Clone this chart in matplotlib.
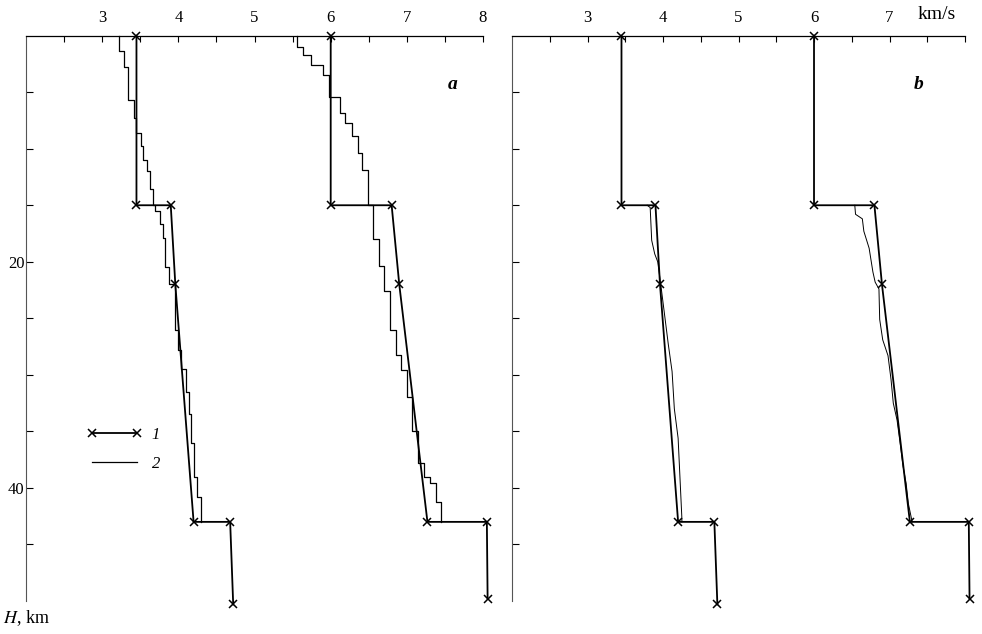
import numpy as np
import matplotlib
matplotlib.use("Agg")
from matplotlib import pyplot as plt
from matplotlib.lines import Line2D

plt.rcParams['font.family'] = ['Liberation Serif', 'DejaVu Serif']
plt.rcParams['mathtext.fontset'] = 'stix'

# model 1 (crosses), same in both panels
s1_vel = [3.45, 3.45, 3.9, 3.96, 4.2, 4.68, 4.72]
s1_dep = [0, 15, 15, 22, 43, 43, 50.3]
p1_vel = [6.0, 6.0, 6.8, 6.9, 7.27, 8.05, 8.06]
p1_dep = [0, 15, 15, 22, 43, 43, 49.8]

# model 2, panel a: layered steps (layer boundaries + velocities)
s2a_edges = [0, 1.4, 2.8, 5.7, 7.3, 8.6, 9.8, 11, 12, 13.6, 15, 15.5, 16.7, 17.9,
             20.5, 22, 26, 27.8, 29.5, 31.5, 33.5, 36, 39, 40.8, 43]
s2a_vel = [3.22, 3.29, 3.34, 3.42, 3.44, 3.51, 3.54, 3.59, 3.63, 3.67, 3.69, 3.76,
           3.8, 3.82, 3.88, 3.96, 4.0, 4.04, 4.1, 4.14, 4.17, 4.21, 4.25, 4.3]
p2a_edges = [0, 1.0, 1.7, 2.6, 3.5, 5.4, 6.8, 7.7, 8.9, 10.4, 11.9, 15, 18, 20.4,
             22.6, 26, 28.2, 29.6, 32, 35, 37.8, 39, 39.6, 41.2, 43]
p2a_vel = [5.56, 5.64, 5.74, 5.9, 5.98, 6.12, 6.19, 6.28, 6.36, 6.41, 6.49, 6.55,
           6.63, 6.7, 6.78, 6.86, 6.92, 7.0, 7.07, 7.14, 7.22, 7.3, 7.38, 7.45]

# model 2, panel b: smooth curves below 15 km
s2b_vel = [3.79, 3.83, 3.85, 3.89, 3.93, 3.97, 4.07, 4.12, 4.15, 4.2, 4.25, 4.25]
s2b_dep = [15, 15.2, 18.1, 19.3, 20, 22, 27.3, 29.7, 33, 35.6, 42.7, 43]
p2b_vel = [6.54, 6.55, 6.64, 6.66, 6.73, 6.78, 6.81, 6.86, 6.87, 6.91, 6.98, 7.02,
           7.05, 7.1, 7.14, 7.18, 7.22, 7.25, 7.3]
p2b_dep = [15, 15.8, 16.2, 17.3, 18.8, 20.9, 21.8, 22.4, 25.1, 26.9, 28.3, 30.4,
           32.5, 34, 36, 38.1, 39.6, 41.4, 43]

x_labels = {'a': [3, 4, 5, 6, 7, 8], 'b': [3, 4, 5, 6, 7]}


def steps(edges, vel):
    # turn layer boundaries + velocities into a stair line
    d = np.repeat(edges, 2)[1:-1]
    v = np.repeat(vel, 2)
    return v, d


fig = plt.figure(figsize=(9.82, 6.34), dpi=100)
ax_a = fig.add_axes([0.0265, 0.052, 0.4654, 0.8918])
ax_b = fig.add_axes([0.5214, 0.052, 0.4613, 0.8918])

for ax, name in [(ax_a, 'a'), (ax_b, 'b')]:
    ax.set_xlim(2, 8)
    ax.set_ylim(50, 0)
    ax.xaxis.tick_top()
    ax.spines['right'].set_visible(False)
    ax.spines['bottom'].set_visible(False)
    ax.spines['top'].set_linewidth(0.9)
    ax.spines['left'].set_linewidth(0.8)
    ax.spines['left'].set_color('#555555')
    ax.set_xticks(np.arange(2.5, 8.01, 0.5))
    ax.set_xticklabels([str(int(t)) if t in x_labels[name] else '' for t in np.arange(2.5, 8.01, 0.5)])
    ax.set_yticks(np.arange(5, 46, 5))
    if name == 'a':
        ax.set_yticklabels(['', '', '', '20', '', '', '', '40', ''])
    else:
        ax.set_yticklabels([])
    ax.tick_params(axis='x', direction='in', length=4, width=0.8, pad=7, labelsize=12)
    ax.tick_params(axis='y', direction='in', length=5, width=0.8, pad=1, labelsize=12)
    ax.text(7.6 if name == 'a' else 7.38, 4.3, name, fontsize=14, fontweight='bold',
            style='italic', ha='center', va='center')

    # model 1
    for v, d in [(s1_vel, s1_dep), (p1_vel, p1_dep)]:
        ax.plot(v, d, color='black', lw=1.3, marker='x', ms=6, mew=1.1, clip_on=False)

# model 2 in panel a
for e, v in [(s2a_edges, s2a_vel), (p2a_edges, p2a_vel)]:
    sv, sd = steps(e, v)
    ax_a.plot(sv, sd, color='black', lw=0.9, clip_on=False)

# model 2 in panel b
ax_b.plot(s2b_vel, s2b_dep, color='black', lw=0.7)
ax_b.plot(p2b_vel, p2b_dep, color='black', lw=0.7)

ax_b.text(7.63, 1.038, 'km/s', fontsize=14, ha='center', va='center',
          transform=ax_b.get_xaxis_transform())

handles = [Line2D([], [], color='black', lw=1.3, marker='x', ms=6, mew=1.1),
           Line2D([], [], color='black', lw=0.9)]
ax_a.legend(handles, ['1', '2'], loc='upper left', bbox_to_anchor=(0.1, 0.335),
            frameon=False, handlelength=3.3, handletextpad=0.6, labelspacing=0.8,
            numpoints=2, prop={'style': 'italic', 'size': 12})

fig.text(0.003, 0.01, r'$H$, km', fontsize=13, ha='left', va='bottom')

fig.savefig('out.png', dpi=100)
